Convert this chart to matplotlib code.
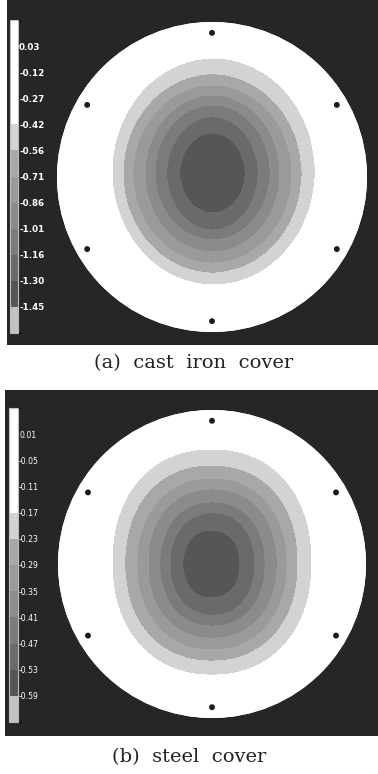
import numpy as np
import matplotlib
matplotlib.use("Agg")
import matplotlib.pyplot as plt
from matplotlib.colors import ListedColormap, BoundaryNorm
from matplotlib.patches import Circle
from matplotlib.cm import ScalarMappable

# ---- pressure levels shown on the two colour bars (top to bottom) ----
iron_ticks = [0.03, -0.12, -0.27, -0.42, -0.56, -0.71, -0.86, -1.01, -1.16, -1.30, -1.45]
steel_ticks = [0.01, -0.05, -0.11, -0.17, -0.23, -0.29, -0.35, -0.41, -0.47, -0.53, -0.59]
iron_labels = ["0.03", "-0.12", "-0.27", "-0.42", "-0.56", "-0.71", "-0.86",
               "-1.01", "-1.16", "-1.30", "-1.45"]
steel_labels = ["0.01", "-0.05", "-0.11", "-0.17", "-0.23", "-0.29", "-0.35",
                "-0.41", "-0.47", "-0.53", "-0.59"]

# band colours, top box to bottom box
band_colors = ["#ffffff", "#ffffff", "#ffffff", "#ffffff", "#d3d3d3", "#a8a8a8",
               "#9a9a9a", "#8b8b8b", "#7b7b7b", "#6a6a6a", "#565656", "#c2c2c2"]

# contour outlines for levels ticks[3] .. ticks[9] (cover radius = 1):
# centre x, centre y, half-width, half-height
iron_cx = [0.010, 0.003, 0.003, 0.003, 0.003, 0.003, 0.003]
iron_cy = [0.035, 0.023, 0.019, 0.023, 0.029, 0.023, 0.026]
iron_a = [0.655, 0.577, 0.513, 0.435, 0.371, 0.294, 0.210]
iron_b = [0.732, 0.642, 0.574, 0.506, 0.435, 0.365, 0.258]

steel_cx = [0.000, -0.003, 0.000, 0.003, 0.003, 0.003, -0.003]
steel_cy = [0.013, 0.006, 0.000, 0.003, 0.000, 0.000, 0.000]
steel_a = [0.649, 0.562, 0.487, 0.419, 0.341, 0.276, 0.185]
steel_b = [0.734, 0.636, 0.558, 0.484, 0.403, 0.331, 0.221]

# bolt holes on the cover rim
hole_angles = [90, 30, -30, -90, -150, 150]
hole_radius = 0.93

W, H = 378, 774
fig = plt.figure(figsize=(W / 100, H / 100), dpi=100)
fig.patch.set_facecolor("white")
BG = "#262626"


def px_axes(x0, y0, x1, y1):
    return fig.add_axes([x0 / W, 1 - y1 / H, (x1 - x0) / W, (y1 - y0) / H])


def draw_panel(rect, center, radius, cbar_rect, ticks, labels, cx, cy, ca, cb,
               power, label_font):
    x0, y0, x1, y1 = rect
    ax = px_axes(x0, y0, x1, y1)
    ax.set_facecolor(BG)
    ax.set_xticks([])
    ax.set_yticks([])
    for s in ax.spines.values():
        s.set_visible(False)
    ccx, ccy = center
    ax.set_xlim((x0 - ccx) / radius, (x1 - ccx) / radius)
    ax.set_ylim((ccy - y1) / radius, (ccy - y0) / radius)

    step = ticks[0] - ticks[1]
    bounds = [ticks[-1] - step] + ticks[::-1] + [ticks[0] + step]
    cmap = ListedColormap(band_colors[::-1])
    norm = BoundaryNorm(bounds, cmap.N)

    # field on the cover: value of the innermost contour band containing a point
    g = np.linspace(-1.02, 1.02, 900)
    X, Y = np.meshgrid(g, g)
    Z = np.full_like(X, 0.5 * (ticks[2] + ticks[3]))
    for k in range(len(ca)):
        d = (np.abs((X - cx[k]) / ca[k]) ** power
             + np.abs((Y - cy[k]) / cb[k]) ** power)
        Z[d < 1] = 0.5 * (ticks[3 + k] + ticks[4 + k])

    disk = Circle((0, 0), 1.0, facecolor="white", edgecolor="none", zorder=1)
    ax.add_patch(disk)
    cs = ax.contourf(X, Y, Z, levels=bounds, cmap=cmap, norm=norm, zorder=2)
    cs.set_clip_path(disk)

    ang = np.deg2rad(hole_angles)
    ax.scatter(hole_radius * np.cos(ang), hole_radius * np.sin(ang), s=18,
               color="#1c1c1c", edgecolors="none", zorder=3)

    # colour bar
    cax = px_axes(*cbar_rect)
    cb_ = fig.colorbar(ScalarMappable(norm=norm, cmap=cmap), cax=cax,
                       ticks=ticks, spacing="uniform")
    cb_.outline.set_edgecolor("#bdbdbd")
    cb_.outline.set_linewidth(0.8)
    cax.set_yticklabels(labels)
    cax.tick_params(axis="y", length=0, pad=0.8, colors="white")
    for t in cax.get_yticklabels():
        t.set_fontproperties(label_font)
        t.set_color("white")


iron_font = matplotlib.font_manager.FontProperties(
    family=["Liberation Sans Narrow", "DejaVu Sans"], weight="bold", size=6.3)
steel_font = matplotlib.font_manager.FontProperties(
    family=["Liberation Sans Narrow", "DejaVu Sans"], size=5.6)

draw_panel((7, 0, 378, 345), (212, 177), 155, (10, 20, 18, 333),
           iron_ticks, iron_labels, iron_cx, iron_cy, iron_a, iron_b, 2.0, iron_font)
draw_panel((5, 390, 378, 736), (212, 564), 154, (9, 408, 18, 722),
           steel_ticks, steel_labels, steel_cx, steel_cy, steel_a, steel_b, 2.2, steel_font)

fig.text(194 / W, 1 - 363 / H, "(a)  cast  iron  cover", ha="center", va="center",
         fontsize=14, family="DejaVu Serif", color="#222222")
fig.text(189 / W, 1 - 757 / H, "(b)  steel  cover", ha="center", va="center",
         fontsize=14, family="DejaVu Serif", color="#222222")

fig.savefig("out.png", dpi=100, facecolor="white")
